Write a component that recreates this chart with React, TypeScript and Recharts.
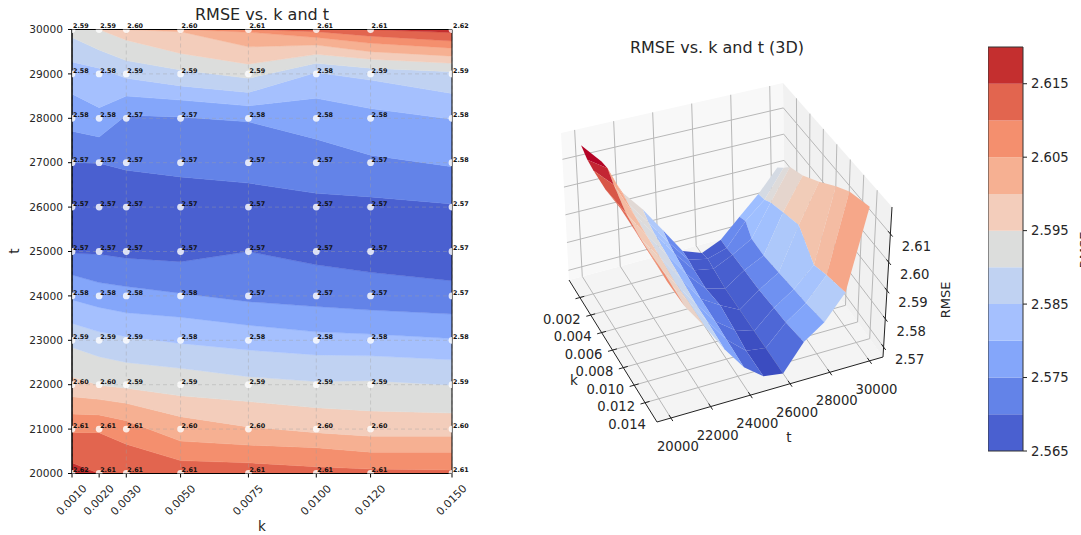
import React from "react";
import {
  Area,
  AreaChart,
  CartesianGrid,
  ComposedChart,
  ReferenceArea,
  ReferenceLine,
  Scatter,
  ScatterChart,
  XAxis,
  YAxis,
} from "recharts";

const FONT = "'DejaVu Sans', sans-serif";
const INK = "#262626";

// ---------- data ----------
const kValues = [0.001, 0.002, 0.003, 0.005, 0.0075, 0.01, 0.012, 0.015];
const tValues = [20000, 21000, 22000, 23000, 24000, 25000, 26000, 27000, 28000, 29000, 30000];

const rmseT20000 = [2.6168, 2.6145, 2.6135, 2.6125, 2.613, 2.612, 2.6115, 2.611];
const rmseT21000 = [2.6094, 2.6098, 2.6068, 2.6025, 2.6005, 2.5993, 2.5985, 2.5985];
const rmseT22000 = [2.5964, 2.5952, 2.5943, 2.593, 2.592, 2.5905, 2.5905, 2.59];
const rmseT23000 = [2.5886, 2.5867, 2.5857, 2.5845, 2.5832, 2.5818, 2.5815, 2.5805];
const rmseT24000 = [2.5792, 2.5777, 2.5768, 2.5755, 2.5742, 2.5737, 2.5732, 2.5725];
const rmseT25000 = [2.5696, 2.5695, 2.5688, 2.5684, 2.57, 2.5688, 2.5675, 2.5675];
const rmseT26000 = [2.567, 2.568, 2.5675, 2.5665, 2.5665, 2.5665, 2.5665, 2.5665];
const rmseT27000 = [2.57, 2.5701, 2.5707, 2.5712, 2.5717, 2.5728, 2.5735, 2.5755];
const rmseT28000 = [2.5767, 2.5782, 2.5747, 2.5747, 2.5761, 2.5775, 2.5785, 2.5805];
const rmseT29000 = [2.5834, 2.5843, 2.5863, 2.5887, 2.5915, 2.5843, 2.5866, 2.589];
const rmseT30000 = [2.5916, 2.5945, 2.5978, 2.6005, 2.6055, 2.611, 2.6147, 2.6175];
const rmseRows = [
  rmseT20000, rmseT21000, rmseT22000, rmseT23000, rmseT24000, rmseT25000,
  rmseT26000, rmseT27000, rmseT28000, rmseT29000, rmseT30000,
];

// contour lines: t at which each level is crossed, per k. "low" = below the valley, "up" = above it
const edgeFloor = [20000, 20000, 20000, 20000, 20000, 20000, 20000, 20000];
const low2615 = [20240, 20000, 20000, 20000, 20000, 20000, 20000, 20000];
const low2610 = [20920, 20920, 20660, 20290, 20240, 20150, 20100, 20080];
const low2605 = [21340, 21320, 21190, 20730, 20640, 20580, 20480, 20480];
const low2600 = [21730, 21670, 21580, 21280, 21050, 20920, 20840, 20840];
const low2595 = [22180, 21990, 21920, 21750, 21620, 21480, 21410, 21360];
const low2590 = [22840, 22630, 22500, 22370, 22180, 22070, 22090, 21990];
const low2585 = [23380, 23190, 23080, 22930, 22780, 22670, 22650, 22560];
const low2580 = [23910, 23740, 23620, 23520, 23340, 23190, 23140, 23040];
const low2575 = [24470, 24300, 24210, 24060, 23870, 23760, 23680, 23590];
const low2570 = [24960, 24940, 24850, 24770, 25000, 24700, 24530, 24340];
const up2570 = [27000, 26990, 26830, 26680, 26540, 26310, 26230, 26070];
const up2575 = [27710, 27580, 28070, 28030, 27920, 27530, 27170, 26910];
const up2580 = [28550, 28240, 28500, 28410, 28280, 28450, 28220, 27980];
const up2585 = [29270, 29130, 28900, 28730, 28580, 29030, 28860, 28560];
const up2590 = [29820, 29540, 29300, 29090, 28900, 29240, 29130, 29050];
const up2595 = [30000, 30000, 29760, 29460, 29220, 29440, 29330, 29240];
const up2600 = [30000, 30000, 30000, 29950, 29610, 29650, 29500, 29400];
const up2605 = [30000, 30000, 30000, 30000, 29940, 29820, 29690, 29580];
const up2610 = [30000, 30000, 30000, 30000, 30000, 29950, 29850, 29740];
const up2615 = [30000, 30000, 30000, 30000, 30000, 30000, 30000, 29930];
const edgeCeil = [30000, 30000, 30000, 30000, 30000, 30000, 30000, 30000];

const contourEdges = [
  edgeFloor, low2615, low2610, low2605, low2600, low2595, low2590, low2585, low2580, low2575, low2570,
  up2570, up2575, up2580, up2585, up2590, up2595, up2600, up2605, up2610, up2615, edgeCeil,
];

const bandColors = [
  "#4a60d0", "#6383e8", "#84a6fa", "#a5c0fe", "#c0d2f2", "#dcdddc",
  "#f3cdbb", "#f6b092", "#f48f6e", "#e2654f", "#c42f2f",
];
const contourBandIndex = [10, 9, 8, 7, 6, 5, 4, 3, 2, 1, 0, 1, 2, 3, 4, 5, 6, 7, 8, 9, 10];

const colorbarLevels = [2.565, 2.57, 2.575, 2.58, 2.585, 2.59, 2.595, 2.6, 2.605, 2.61, 2.615, 2.62];
const colorbarTicks = [2.565, 2.575, 2.585, 2.595, 2.605, 2.615];

const kTicks3D = [0.002, 0.004, 0.006, 0.008, 0.01, 0.012, 0.014];
const tTicks3D = [20000, 22000, 24000, 26000, 28000, 30000];
const zTicks3D = [2.57, 2.58, 2.59, 2.6, 2.61];

// ---------- left panel tables ----------
const contourRows = kValues.map((k, i) => ({ k, e: contourEdges.map((edge) => edge[i]) }));
const gridPoints = tValues.flatMap((t, j) =>
  kValues.map((k, i) => ({ k, t, z: rmseRows[j][i] }))
);

const Dot = (p: any) => <circle cx={p.cx} cy={p.cy} r={3.4} fill="#fff" fillOpacity={0.8} />;
const Value = (p: any) => (
  <text x={p.cx + 1} y={p.cy - 1.2} fontSize={6.4} fontWeight="bold" fontFamily={FONT} fill="#111">
    {p.payload.z.toFixed(2)}
  </text>
);
const RotTick = (p: any) => {
  const y = p.y + 21;
  return (
    <text
      x={p.x}
      y={y}
      fontSize={10.8}
      fontFamily={FONT}
      fill={INK}
      textAnchor="middle"
      dominantBaseline="middle"
      transform={`rotate(-45 ${p.x} ${y})`}
    >
      {p.payload.value.toFixed(4)}
    </text>
  );
};

const panelSize = { width: 500, height: 535 };
const panelStyle: React.CSSProperties = { position: "absolute", left: 0, top: 0 };

function ContourPanel() {
  return (
    <ComposedChart
      {...panelSize}
      data={contourRows}
      margin={{ top: 29.5, left: 0, right: 48, bottom: 0 }}
      style={panelStyle}
    >
      <XAxis
        dataKey="k"
        type="number"
        domain={[0.001, 0.015]}
        ticks={kValues}
        height={61.5}
        tick={<RotTick />}
        tickSize={4}
        interval={0}
        stroke="#000"
      />
      <YAxis
        type="number"
        domain={[20000, 30000]}
        ticks={tValues}
        width={72}
        tickSize={4}
        tickMargin={5}
        interval={0}
        stroke="#000"
        tick={{ fontSize: 10.6, fontFamily: FONT, fill: INK }}
      />
      {contourBandIndex.map((band, n) => (
        <Area
          key={n}
          type="linear"
          dataKey={(r: any) => [r.e[n], r.e[n + 1]]}
          fill={bandColors[band]}
          fillOpacity={1}
          stroke={bandColors[band]}
          strokeWidth={0.4}
          dot={false}
          activeDot={false}
          isAnimationActive={false}
        />
      ))}
    </ComposedChart>
  );
}

function GridPanel() {
  return (
    <ScatterChart
      {...panelSize}
      margin={{ top: 29.5, left: 72, right: 48, bottom: 61.5 }}
      style={panelStyle}
    >
      <XAxis dataKey="k" type="number" domain={[0.001, 0.015]} ticks={kValues} allowDataOverflow hide />
      <YAxis dataKey="t" type="number" domain={[20000, 30000]} ticks={tValues} allowDataOverflow hide />
      <XAxis xAxisId="free" dataKey="k" type="number" domain={[0.001, 0.015]} hide />
      <YAxis yAxisId="free" dataKey="t" type="number" domain={[20000, 30000]} hide />
      <CartesianGrid stroke="#a0a0a0" strokeOpacity={0.38} strokeDasharray="4 3" />
      <Scatter data={gridPoints} shape={Dot} isAnimationActive={false} />
      <ReferenceLine x={0.001} stroke="#000" />
      <ReferenceLine x={0.015} stroke="#000" />
      <ReferenceLine y={30000} stroke="#000" />
      <ReferenceLine y={20000} stroke="#000" />
      <Scatter data={gridPoints} xAxisId="free" yAxisId="free" shape={Value} isAnimationActive={false} />
    </ScatterChart>
  );
}

// ---------- 3D panel ----------
const boxK = [0, 0.0162];
const boxT = [19300, 30680];
const boxZ = [2.5665, 2.6195];
// screen position of the 8 box corners, [k side][t side][z side]
const boxCorners = [
  [[[569, 280], [561, 133]], [[785, 222], [783, 83]]],
  [[[657, 422], [658, 262]], [[883, 357], [892, 207]]],
];

function project(k: number, t: number, z: number) {
  const u = (k - boxK[0]) / (boxK[1] - boxK[0]);
  const v = (t - boxT[0]) / (boxT[1] - boxT[0]);
  const w = (z - boxZ[0]) / (boxZ[1] - boxZ[0]);
  let x = 0;
  let y = 0;
  for (const a of [0, 1])
    for (const b of [0, 1])
      for (const c of [0, 1]) {
        const f = (a ? u : 1 - u) * (b ? v : 1 - v) * (c ? w : 1 - w);
        x += f * boxCorners[a][b][c][0];
        y += f * boxCorners[a][b][c][1];
      }
  return { x, y };
}

const coolwarm = [
  "#3b4cc0", "#5977e3", "#7b9ff9", "#9ebeff", "#c0d4f5", "#dddcdc",
  "#f2cbb7", "#f7ac8e", "#ee8468", "#d65244", "#b40426",
];
function cmap(raw: number) {
  const c = Math.max(0, Math.min(1, raw));
  // the warm half of the surface reads paler than a plain linear ramp
  const v = c > 0.5 ? 0.5 + 0.5 * Math.pow((c - 0.5) * 2, 1.35) : c;
  const s = v * (coolwarm.length - 1);
  const i = Math.min(coolwarm.length - 2, Math.floor(s));
  const f = s - i;
  const ch = (h: string, o: number) => parseInt(h.slice(o, o + 2), 16);
  const mix = (o: number) => Math.round(ch(coolwarm[i], o) * (1 - f) + ch(coolwarm[i + 1], o) * f);
  return `rgb(${mix(1)},${mix(3)},${mix(5)})`;
}

type Quad = { pts: { x: number; y: number }[]; avg: number; depth: number };
const quads: Quad[] = [];
for (let j = 0; j < tValues.length - 1; j++)
  for (let i = 0; i < kValues.length - 1; i++) {
    const corners: [number, number][] = [[i, j], [i + 1, j], [i + 1, j + 1], [i, j + 1]];
    const pts = corners.map(([a, b]) => project(kValues[a], tValues[b], rmseRows[b][a]));
    const avg = corners.reduce((s, [a, b]) => s + rmseRows[b][a], 0) / 4;
    const depth = corners.reduce((s, [a, b]) => s + project(kValues[a], tValues[b], boxZ[0]).y, 0);
    quads.push({ pts, avg, depth });
  }
quads.sort((a, b) => a.depth - b.depth);
const avgMin = Math.min(...quads.map((q) => q.avg));
const avgMax = Math.max(...quads.map((q) => q.avg));

const [k0, k1] = boxK;
const [t0, t1] = boxT;
const [z0, z1] = boxZ;
const panes = [
  { pts: [project(k0, t0, z0), project(k1, t0, z0), project(k1, t1, z0), project(k0, t1, z0)], fill: "#f4f4f4" },
  { pts: [project(k0, t0, z0), project(k0, t1, z0), project(k0, t1, z1), project(k0, t0, z1)], fill: "#f8f8f8" },
  { pts: [project(k0, t1, z0), project(k1, t1, z0), project(k1, t1, z1), project(k0, t1, z1)], fill: "#f1f1f1" },
];
const gridSegments = [
  ...kTicks3D.flatMap((k) => [
    [project(k, t0, z0), project(k, t1, z0)],
    [project(k, t1, z0), project(k, t1, z1)],
  ]),
  ...tTicks3D.flatMap((t) => [
    [project(k1, t, z0), project(k0, t, z0)],
    [project(k0, t, z0), project(k0, t, z1)],
  ]),
  ...zTicks3D.flatMap((z) => [
    [project(k0, t0, z), project(k0, t1, z)],
    [project(k0, t1, z), project(k1, t1, z)],
  ]),
];
const axisSegments = [
  [project(k0, t0, z0), project(k1, t0, z0)],
  [project(k1, t0, z0), project(k1, t1, z0)],
  [project(k1, t1, z0), project(k1, t1, z1)],
  ...kTicks3D.map((k) => [project(k, t0 - 230, z0), project(k, t0 + 230, z0)]),
  ...tTicks3D.map((t) => [project(k1 - 0.00035, t, z0), project(k1 + 0.00035, t, z0)]),
  ...zTicks3D.map((z) => [project(k1 - 0.00035, t1, z), project(k1 + 0.00035, t1, z)]),
];
const tickText = [
  ...kTicks3D.map((k) => ({ ...project(k, t0, z0), text: k.toFixed(3), dx: -18, dy: 22 })),
  ...tTicks3D.map((t) => ({ ...project(k1, t, z0), text: String(t), dx: 7, dy: 29 })),
  ...zTicks3D.map((z) => ({ ...project(k1, t1, z), text: z.toFixed(2), dx: 26, dy: 13 })),
];

const NoMark = () => <g />;
const TickText = (p: any) => (
  <text
    x={p.cx + p.payload.dx}
    y={p.cy + p.payload.dy}
    fontSize={13.2}
    fontFamily={FONT}
    fill={INK}
    textAnchor="middle"
    dominantBaseline="middle"
  >
    {p.payload.text}
  </text>
);

function SurfacePanel() {
  return (
    <ScatterChart
      width={460}
      height={535}
      margin={{ top: 0, left: 0, right: 0, bottom: 0 }}
      style={{ position: "absolute", left: 520, top: 0 }}
    >
      <XAxis dataKey="x" type="number" domain={[520, 980]} hide />
      <YAxis dataKey="y" type="number" domain={[0, 535]} reversed hide />
      {panes.map((p, i) => (
        <Scatter
          key={`pane${i}`}
          data={p.pts}
          line={{ fill: p.fill, stroke: "none" }}
          shape={NoMark}
          isAnimationActive={false}
        />
      ))}
      {gridSegments.map((s, i) => (
        <Scatter
          key={`grid${i}`}
          data={s}
          line={{ stroke: "#b8b8b8", strokeWidth: 1, fill: "none" }}
          shape={NoMark}
          isAnimationActive={false}
        />
      ))}
      {axisSegments.map((s, i) => (
        <Scatter
          key={`axis${i}`}
          data={s}
          line={{ stroke: "#222", strokeWidth: 1, fill: "none" }}
          shape={NoMark}
          isAnimationActive={false}
        />
      ))}
      {quads.map((q, i) => (
        <Scatter
          key={`quad${i}`}
          data={q.pts}
          line={{ fill: cmap((q.avg - avgMin) / (avgMax - avgMin)), stroke: "none" }}
          shape={NoMark}
          isAnimationActive={false}
        />
      ))}
      <Scatter data={tickText} shape={TickText} isAnimationActive={false} />
    </ScatterChart>
  );
}

// ---------- colorbar ----------
const colorbarRows = [{ x: 0 }, { x: 1 }];

function Colorbar() {
  return (
    <AreaChart
      width={93}
      height={535}
      data={colorbarRows}
      margin={{ top: 47, left: 0, right: 0, bottom: 84 }}
      style={{ position: "absolute", left: 988, top: 0 }}
    >
      <XAxis dataKey="x" type="number" domain={[0, 1]} hide />
      <YAxis
        orientation="right"
        type="number"
        domain={[2.565, 2.62]}
        ticks={colorbarTicks}
        interval={0}
        width={58}
        tickSize={4}
        tickMargin={4}
        axisLine={false}
        stroke="#222"
        tick={{ fontSize: 13.2, fontFamily: FONT, fill: INK }}
        tickFormatter={(v: number) => v.toFixed(3)}
      />
      {bandColors.map((c, i) => (
        <Area
          key={i}
          type="linear"
          dataKey={() => [colorbarLevels[i], colorbarLevels[i + 1]]}
          fill={c}
          fillOpacity={1}
          stroke="none"
          dot={false}
          activeDot={false}
          isAnimationActive={false}
        />
      ))}
      <ReferenceArea x1={0} x2={1} y1={2.565} y2={2.62} fill="none" stroke="#333" strokeWidth={1} />
    </AreaChart>
  );
}

const textBase: React.CSSProperties = {
  position: "absolute",
  fontFamily: FONT,
  color: INK,
  whiteSpace: "nowrap",
  lineHeight: 1,
};
const Caption = ({ x, y, size, rot, children }: any) => (
  <div
    style={{
      ...textBase,
      left: x,
      top: y,
      fontSize: size,
      transform: `translate(-50%, -50%)${rot ? ` rotate(${rot}deg)` : ""}`,
    }}
  >
    {children}
  </div>
);

export default function App() {
  return (
    <div
      style={{
        position: "absolute",
        left: 0,
        top: 0,
        width: 1081,
        height: 535,
        overflow: "hidden",
        background: "#fff",
      }}
    >
      <ContourPanel />
      <GridPanel />
      <SurfacePanel />
      <Colorbar />
      <Caption x={262} y={15} size={16}>RMSE vs. k and t</Caption>
      <Caption x={262} y={527} size={13.5}>k</Caption>
      <Caption x={15} y={251} size={13.5} rot={-90}>t</Caption>
      <Caption x={717} y={48} size={16}>RMSE vs. k and t (3D)</Caption>
      <Caption x={574} y={381} size={13.5}>k</Caption>
      <Caption x={789} y={438} size={13.5}>t</Caption>
      <Caption x={945} y={300} size={13} rot={-90}>RMSE</Caption>
      <Caption x={1084} y={250} size={13} rot={-90}>RMSE</Caption>
    </div>
  );
}
